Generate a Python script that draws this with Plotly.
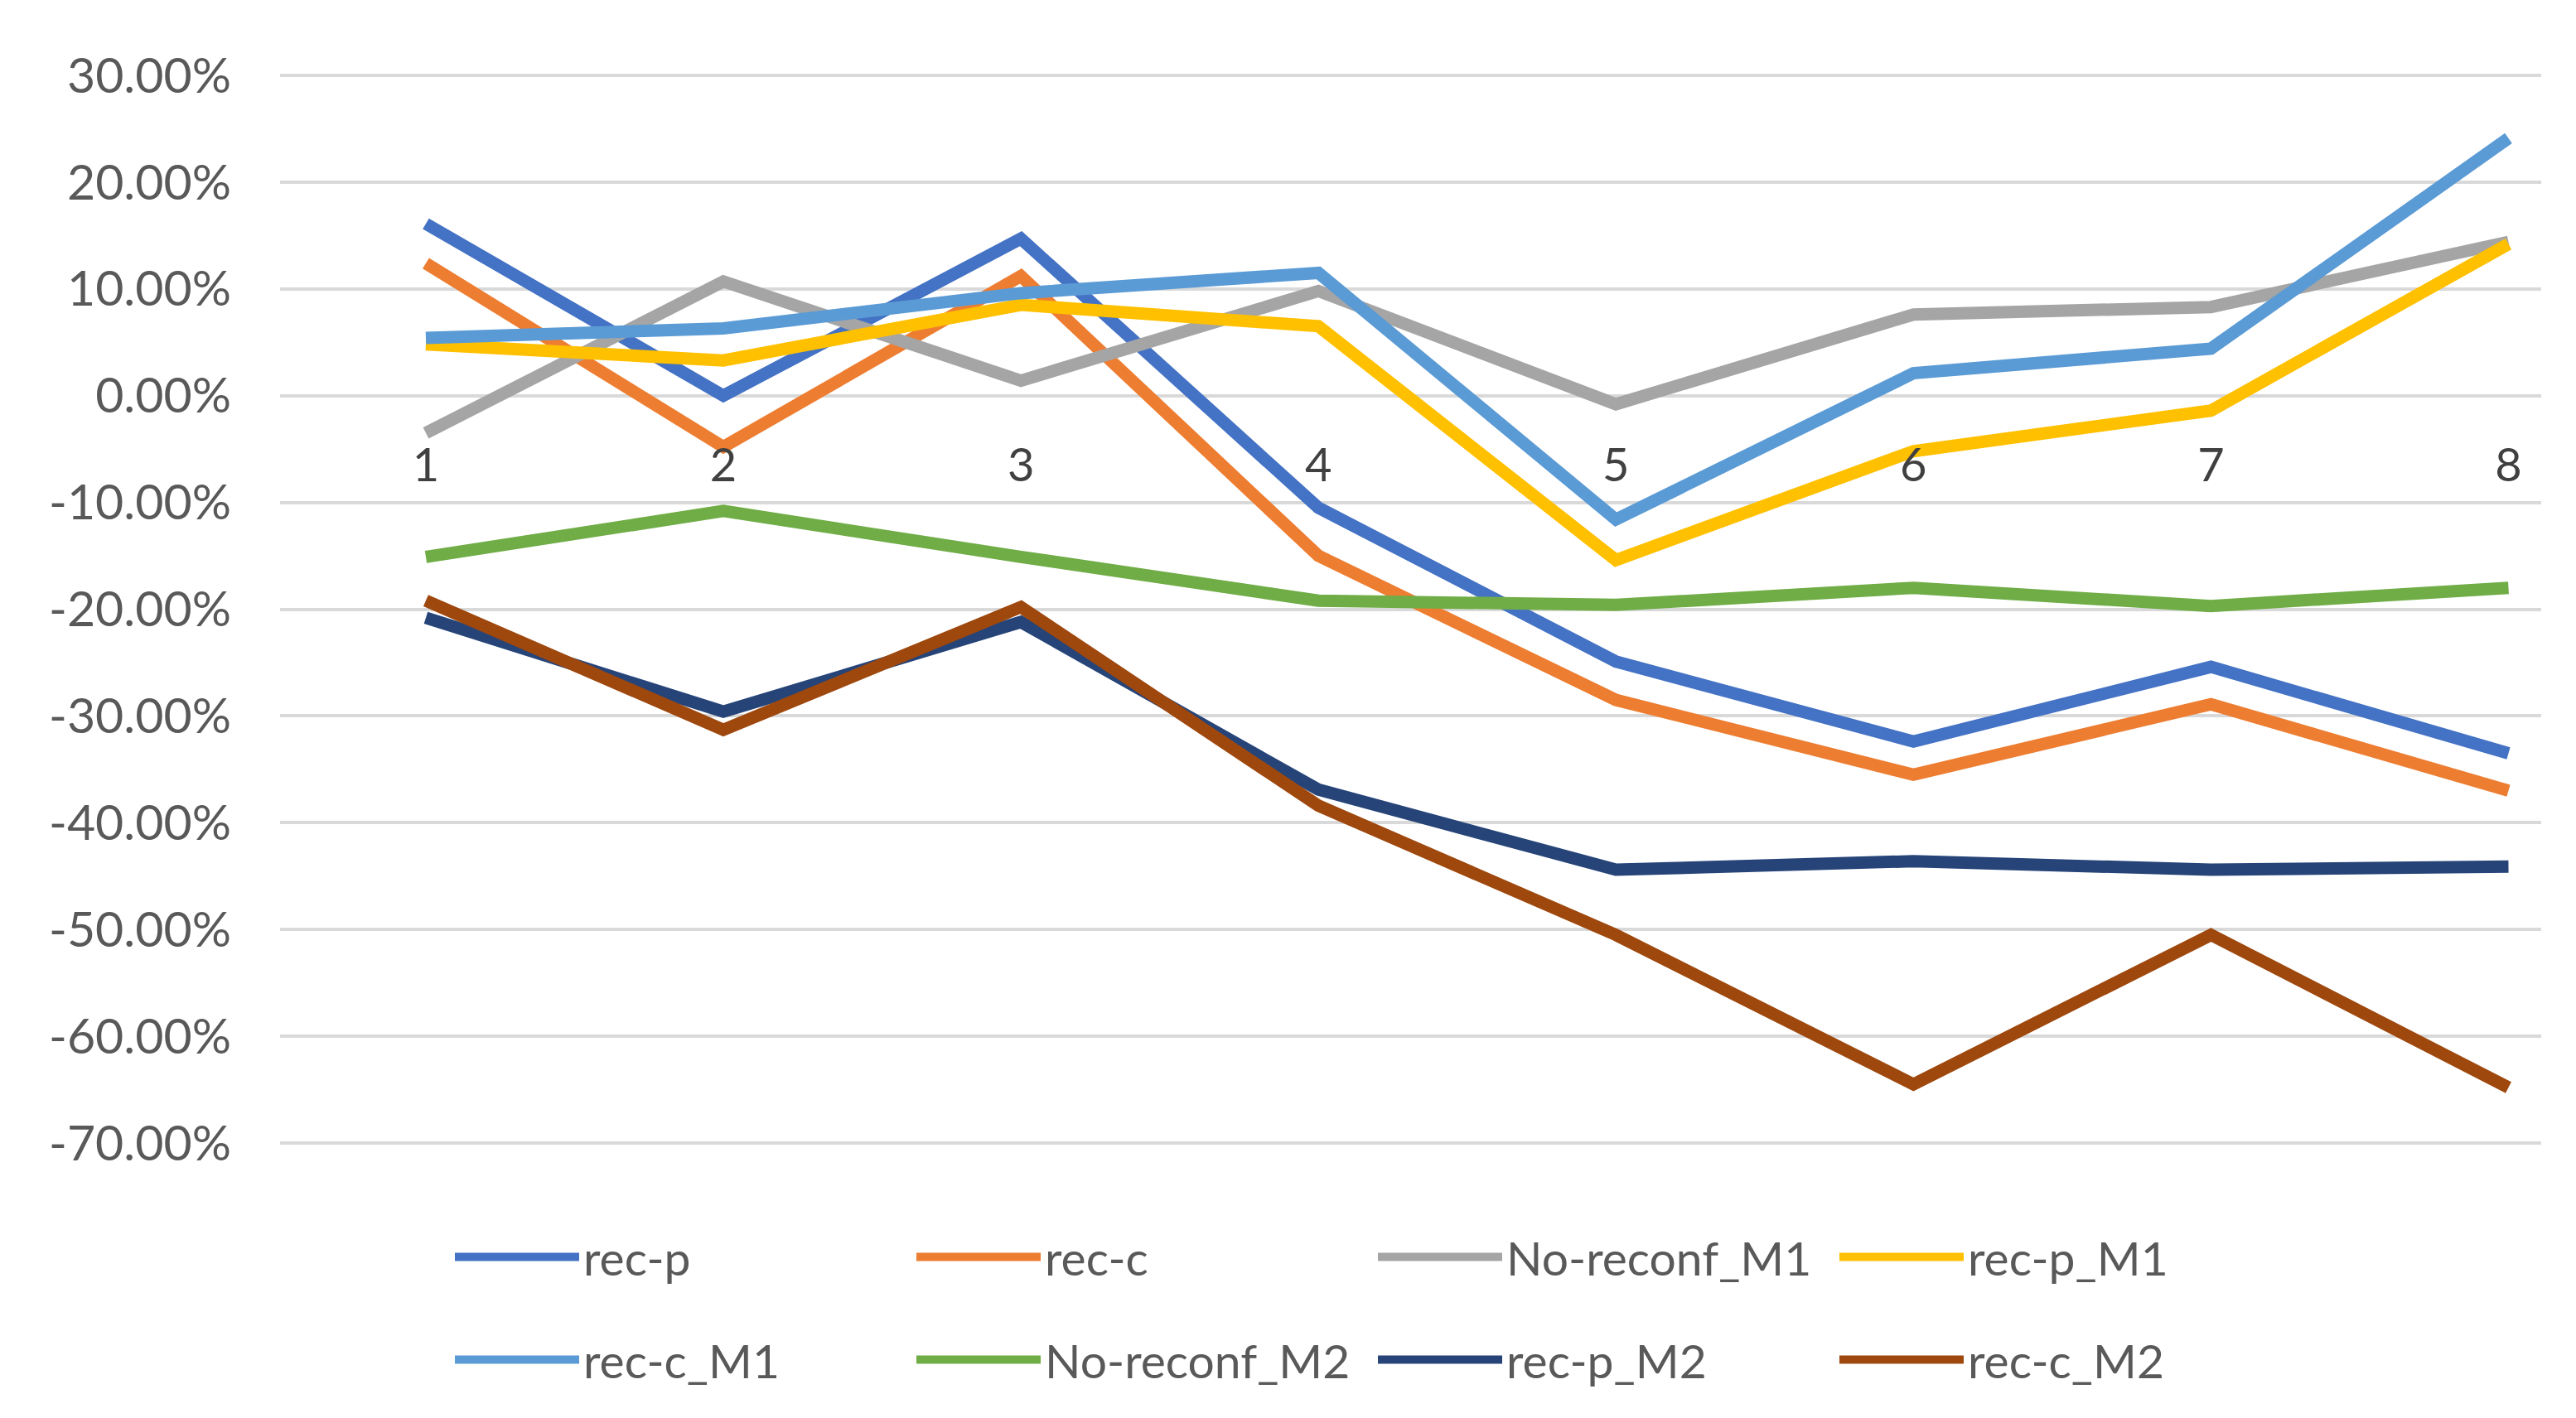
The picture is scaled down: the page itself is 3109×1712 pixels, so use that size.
import plotly.graph_objects as go

categories = [1, 2, 3, 4, 5, 6, 7, 8]
tick_labels = ["1", "2", "3", "4", "5", "6", "7", "8"]

y_tick_values = [0.30, 0.20, 0.10, 0.0, -0.10, -0.20, -0.30, -0.40, -0.50, -0.60, -0.70]
y_tick_labels = ["30.00%", "20.00%", "10.00%", "0.00%", "-10.00%", "-20.00%",
                 "-30.00%", "-40.00%", "-50.00%", "-60.00%", "-70.00%"]

rec_p = [0.161, 0.000, 0.147, -0.105, -0.249, -0.324, -0.254, -0.335]
rec_c = [0.124, -0.048, 0.112, -0.150, -0.285, -0.355, -0.289, -0.370]
no_reconf_m1 = [-0.035, 0.107, 0.014, 0.098, -0.008, 0.076, 0.083, 0.144]
rec_p_m1 = [0.048, 0.033, 0.085, 0.065, -0.154, -0.052, -0.014, 0.142]
rec_c_m1 = [0.054, 0.063, 0.096, 0.115, -0.116, 0.021, 0.044, 0.241]
no_reconf_m2 = [-0.151, -0.108, -0.151, -0.192, -0.196, -0.180, -0.197, -0.180]
rec_p_m2 = [-0.208, -0.296, -0.212, -0.369, -0.444, -0.436, -0.444, -0.441]
rec_c_m2 = [-0.192, -0.313, -0.198, -0.384, -0.505, -0.645, -0.505, -0.648]

series = [
    ("rec-p", rec_p, "#4472C4", "legend"),
    ("rec-c", rec_c, "#ED7D31", "legend"),
    ("No-reconf_M1", no_reconf_m1, "#A5A5A5", "legend"),
    ("rec-p_M1", rec_p_m1, "#FFC000", "legend"),
    ("rec-c_M1", rec_c_m1, "#5B9BD5", "legend2"),
    ("No-reconf_M2", no_reconf_m2, "#70AD47", "legend2"),
    ("rec-p_M2", rec_p_m2, "#264478", "legend2"),
    ("rec-c_M2", rec_c_m2, "#9E480E", "legend2"),
]

W, H = 3109, 1712
ML, MR, MT, MB = 330, 50, 81, 338
y_lo, y_hi = -0.7015, 0.3015
plot_h = H - MT - MB

fig = go.Figure()
for name, vals, color, lg in series:
    fig.add_trace(go.Scatter(
        x=categories, y=vals, name=name, mode="lines",
        line=dict(color=color, width=15),
        legend=lg,
    ))

font_family = "Lato, Open Sans, sans-serif"
legend_common = dict(
    orientation="h",
    xanchor="left", yanchor="middle",
    x=(541 - ML - 5) / (W - ML - MR),
    entrywidth=392, entrywidthmode="pixels",
    itemwidth=150,
    font=dict(family=font_family, size=57, color="#595959"),
    bgcolor="rgba(0,0,0,0)",
    traceorder="normal",
)

fig.update_layout(
    width=W, height=H,
    margin=dict(l=ML, r=MR, t=MT, b=MB),
    paper_bgcolor="white", plot_bgcolor="white",
    font=dict(family=font_family, color="#595959"),
    showlegend=True,
    legend=dict(legend_common, y=-(1510 - (H - MB)) / plot_h),
    legend2=dict(legend_common, y=-(1634 - (H - MB)) / plot_h),
    xaxis=dict(
        range=[0.51, 8.11],
        tickmode="array", tickvals=categories, ticktext=tick_labels,
        showgrid=False, zeroline=False, showline=False,
        anchor="free", position=(0 - y_lo) / (y_hi - y_lo),
        ticks="", ticklabelstandoff=46,
        tickfont=dict(family=font_family, size=56, color="#404040"),
    ),
    yaxis=dict(
        range=[y_lo, y_hi],
        tickmode="array", tickvals=y_tick_values, ticktext=y_tick_labels,
        showgrid=True, gridcolor="#D9D9D9", gridwidth=4,
        zeroline=False, showline=False, ticks="",
        ticklabelstandoff=58,
        tickfont=dict(family=font_family, size=59, color="#595959"),
    ),
)

fig.write_html("out.html")
